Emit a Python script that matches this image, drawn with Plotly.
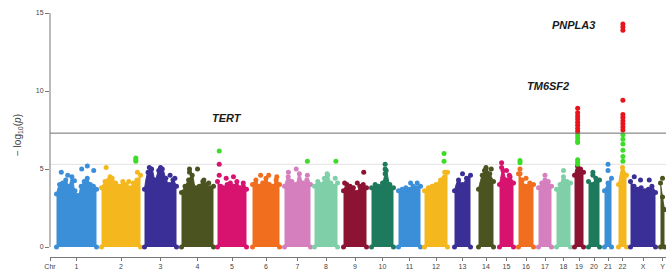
import numpy as np
import plotly.graph_objects as go

# ---------------- data ----------------
chr_labels = ["1", "2", "3", "4", "5", "6", "7", "8", "9", "10", "11", "12",
              "13", "14", "15", "16", "17", "18", "19", "20", "21", "22", "X", "Y"]
# chromosome spans on the cumulative genome axis (plot units)
chr_start = [5, 50, 93, 130, 166, 201, 233, 263, 292, 320, 347, 373,
             403, 427, 448, 467, 487, 505, 523, 537, 553, 567, 579, 609]
chr_end = [48, 92, 128, 165, 198, 231, 262, 289, 318, 345, 372, 399,
           422, 445, 465, 485, 503, 522, 535, 551, 563, 578, 607, 616]

# upper envelope of the dense SNP cloud (-log10 p) along each chromosome
skyline = [
    [3.4, 4.0, 4.1, 4.3, 3.9, 4.5, 3.6, 3.3, 3.9, 4.2, 4.4, 4.0, 3.9, 3.7],
    [3.8, 4.2, 4.3, 4.4, 4.1, 3.9, 4.2, 4.0, 3.8, 4.1, 4.3, 4.6],
    [3.7, 4.8, 5.0, 4.3, 4.9, 5.0, 4.4, 4.0, 4.3, 3.9],
    [3.5, 3.9, 4.3, 4.6, 3.8, 3.9, 4.2, 4.0, 3.8, 3.9],
    [4.2, 3.9, 3.8, 4.0, 4.1, 3.9, 4.2, 3.8, 4.1, 3.7],
    [4.0, 4.3, 3.9, 4.1, 4.4, 4.0, 3.9, 4.3, 4.0],
    [3.9, 4.5, 4.2, 4.0, 4.7, 4.1, 4.3, 4.0],
    [3.9, 4.2, 4.0, 4.4, 4.6, 4.1, 3.9, 4.1],
    [3.6, 4.0, 3.9, 3.8, 3.5, 3.9, 4.0, 3.8],
    [3.8, 4.0, 3.9, 4.1, 4.9, 4.0, 3.8],
    [3.6, 3.7, 3.8, 3.7, 3.9, 3.8, 3.9],
    [3.6, 3.8, 3.9, 4.0, 4.1, 4.4, 4.8],
    [3.6, 4.3, 4.0, 4.4, 4.6],
    [3.7, 4.6, 5.0, 4.7, 4.2],
    [4.0, 4.9, 4.3, 4.5, 4.1],
    [4.7, 4.3, 3.9, 4.1, 4.0],
    [3.8, 4.1, 4.3, 4.2, 3.9],
    [3.7, 4.0, 4.5, 4.2, 4.1],
    [4.6, 5.2, 5.0, 4.8],
    [4.2, 4.0, 4.4, 4.3],
    [3.6, 4.1, 4.4],
    [4.0, 5.1, 4.6],
    [4.2, 3.9, 3.7, 3.8, 3.6, 3.7, 3.9, 3.5],
    [4.1, 3.2, 2.4],
]

# isolated SNPs above the cloud: chromosome index, relative position, -log10 p
top_chr = [0, 0, 0, 0, 0, 0, 1, 1, 1, 1, 2, 2, 2, 2, 3, 3, 3, 3, 3,
           4, 4, 4, 4, 5, 5, 5, 6, 6, 6, 6, 7, 7, 8, 8, 8, 9, 9, 9,
           10, 10, 11, 11, 11, 12, 13, 13, 13, 14, 14, 14, 14, 15, 15, 15,
           16, 17, 19, 19, 20, 20, 22, 22, 22, 23]
top_pos = [0.12, 0.28, 0.45, 0.63, 0.77, 0.93, 0.12, 0.22, 0.70, 0.92,
           0.15, 0.50, 0.95, 0.80, 0.25, 0.25, 0.50, 0.70, 0.85,
           0.06, 0.06, 0.30, 0.55, 0.30, 0.60, 0.90, 0.15, 0.45, 0.88, 0.88,
           0.55, 0.90, 0.05, 0.88, 0.60, 0.62, 0.62, 0.62,
           0.55, 0.85, 0.70, 0.88, 0.88, 0.50, 0.50, 0.40, 0.85,
           0.15, 0.15, 0.50, 0.70, 0.10, 0.10, 0.50,
           0.50, 0.50, 0.40, 0.40, 0.50, 0.50, 0.15, 0.40, 0.75, 0.50]
top_val = [4.8, 4.6, 4.25, 5.0, 5.2, 4.9, 5.1, 4.5, 4.2, 4.8,
           5.1, 5.1, 4.4, 4.6, 5.0, 4.8, 5.0, 4.3, 4.1,
           5.3, 4.6, 4.4, 4.5, 4.6, 4.6, 4.5, 4.8, 5.0, 4.6, 4.2,
           4.7, 4.4, 4.1, 4.8, 4.1, 5.3, 5.0, 4.7,
           4.1, 4.1, 4.3, 4.8, 4.5, 4.7, 5.1, 4.9, 5.0,
           5.4, 5.1, 4.9, 4.6, 5.0, 4.7, 4.4,
           4.6, 4.9, 4.8, 4.6, 5.3, 4.9, 4.5, 4.3, 4.3, 4.4]

# suggestive SNPs (green)
sug_chr = [1, 1, 1, 4, 6, 7, 11, 11, 15, 15,
           18, 18, 18, 18, 18, 18, 18,
           21, 21, 21, 21, 21, 21]
sug_pos = [0.88, 0.88, 0.88, 0.06, 0.88, 0.93, 0.85, 0.85, 0.10, 0.10,
           0.35, 0.35, 0.35, 0.35, 0.35, 0.35, 0.35,
           0.55, 0.55, 0.55, 0.55, 0.55, 0.55]
sug_val = [5.5, 5.6, 5.7, 6.15, 5.5, 5.5, 6.0, 5.5, 5.4, 5.55,
           7.2, 7.0, 6.8, 6.7, 5.6, 5.45, 5.3,
           7.2, 6.9, 6.6, 6.2, 5.8, 5.5]

# genome-wide significant SNPs (red)
sig_chr = [18, 18, 18, 18, 18, 18, 18, 18,
           21, 21, 21, 21, 21, 21, 21, 21, 21, 21]
sig_pos = [0.35] * 8 + [0.55] * 10
sig_val = [8.9, 8.6, 8.4, 8.2, 8.0, 7.8, 7.6, 7.4,
           14.3, 14.1, 13.9, 9.4, 8.5, 8.3, 8.1, 7.9, 7.7, 7.5]

gene_names = ["<b><i>TERT</i></b>", "<b><i>TM6SF2</i></b>", "<b><i>PNPLA3</i></b>"]
gene_x = [177, 498, 523]
gene_y = [8.3, 10.3, 14.2]

y_ticks = [0, 5, 10, 15]
genome_wide = 7.3
suggestive = 5.3

# ---------------- style ----------------
palette = ["#3a8fd8", "#f4b81e", "#3a2f96", "#4b5320", "#d8126f", "#f06e1e",
           "#d57fbf", "#7fd0a8", "#8c1432", "#1e7a5c"]
chr_colors = [palette[i % 10] for i in range(22)] + ["#3a2f96", "#4b5320"]
RED = "#e8141c"
GREEN = "#3cdc28"
MS = 5

fig = go.Figure()


def xpos(ci, p):
    s, e = chr_start[ci] + 1.5, chr_end[ci] - 1.5
    return s + (e - s) * p


for ci, lab in enumerate(chr_labels):
    sky = skyline[ci]
    n = len(sky)
    xs = [xpos(ci, k / (n - 1)) for k in range(n)]
    col = chr_colors[ci]
    fig.add_trace(go.Scatter(
        x=xs, y=sky, mode="lines+markers", fill="tozeroy",
        fillcolor=col, line=dict(color=col, width=1, shape="spline"),
        marker=dict(color=col, size=MS), hoverinfo="skip", showlegend=False))
    # rounded bottom edge
    fig.add_trace(go.Scatter(
        x=[xs[0], xs[-1]], y=[0, 0], mode="markers",
        marker=dict(color=col, size=MS), hoverinfo="skip", showlegend=False))

fig.add_trace(go.Scatter(
    x=[xpos(c, p) for c, p in zip(top_chr, top_pos)], y=top_val,
    mode="markers", marker=dict(color=[chr_colors[c] for c in top_chr], size=MS),
    hoverinfo="skip", showlegend=False))
fig.add_trace(go.Scatter(
    x=[xpos(c, p) for c, p in zip(sug_chr, sug_pos)], y=sug_val,
    mode="markers", marker=dict(color=GREEN, size=MS),
    hoverinfo="skip", showlegend=False))
fig.add_trace(go.Scatter(
    x=[xpos(c, p) for c, p in zip(sig_chr, sig_pos)], y=sig_val,
    mode="markers", marker=dict(color=RED, size=MS),
    hoverinfo="skip", showlegend=False))

for name, gx, gy in zip(gene_names, gene_x, gene_y):
    fig.add_annotation(x=gx, y=gy, text=name, showarrow=False,
                       font=dict(family="Liberation Sans, Arial", size=11, color="#1a1a1a"))

# threshold lines
fig.add_shape(type="line", xref="paper", x0=0, x1=1, y0=genome_wide, y1=genome_wide,
              line=dict(color="#6e6e6e", width=1))
fig.add_shape(type="line", xref="paper", x0=0, x1=1, y0=suggestive, y1=suggestive,
              line=dict(color="#e2e2e2", width=1), layer="below")
# y axis line only from 0 to 15
fig.add_shape(type="line", xref="paper", x0=0, x1=0, y0=y_ticks[0], y1=y_ticks[-1],
              line=dict(color="#777777", width=1))

tick_x = [0] + [(s + e) / 2 for s, e in zip(chr_start, chr_end)]
tick_t = ["Chr"] + chr_labels

fig.update_layout(
    width=668, height=273,
    margin=dict(l=50, r=2, t=13, b=16),
    paper_bgcolor="white", plot_bgcolor="white",
    font=dict(family="Liberation Sans, Arial", color="#444444"),
    xaxis=dict(range=[0, 616], showgrid=False, zeroline=False, showline=True,
               linecolor="#777777", linewidth=1, ticks="outside", ticklen=3,
               tickcolor="#777777", tickvals=tick_x, ticktext=tick_t,
               tickfont=dict(size=7, color="#444444"), tickangle=0, fixedrange=True,
               automargin=False),
    yaxis=dict(range=[-0.64, 15], showgrid=False, zeroline=False, showline=False,
               ticks="outside", ticklen=4, tickcolor="#777777",
               tickvals=y_ticks, tickfont=dict(size=7, color="#444444"),
               title=dict(text="\u2212 log<sub>10</sub>(<i>p</i>)",
                          font=dict(size=10, color="#444444"), standoff=12),
               fixedrange=True, automargin=False),
)

# remove the default page margin so the 668x273 figure fills the window exactly
fig.write_html(
    "out.html",
    config={"displayModeBar": False, "staticPlot": True},
    post_script="document.body.style.margin='0';"
                "document.documentElement.style.overflow='hidden';"
                "document.body.style.overflow='hidden';",
)
